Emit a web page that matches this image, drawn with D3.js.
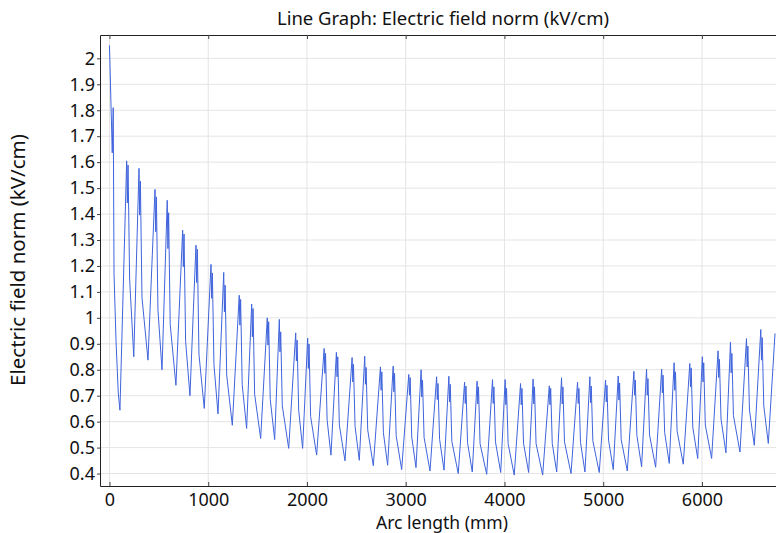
<!DOCTYPE html>
<html lang="en">
<head>
<meta charset="utf-8">
<title>Line Graph: Electric field norm</title>
<script src="https://cdn.jsdelivr.net/npm/d3@7"></script>
<style>
  body { margin: 0; background: #fff; }
  svg { display: block; font-family: "Noto Sans", sans-serif; }
</style>
</head>
<body>
<svg width="776" height="533"></svg>
<script>
// start of the trace (first electrode), [arc length mm, kV/cm]
var startPoints = [[0, 2.05], [28, 1.636], [38, 1.81], [46, 1.17], [66, 0.914], [89, 0.71], [106, 0.644]];

// one entry per spike
var peakX  = [174, 299, 461, 585, 741, 876, 1028, 1157, 1314, 1440, 1598, 1720, 1886, 2007, 2174, 2298, 2457, 2585, 2744, 2873, 3031, 3156, 3313, 3437, 3596, 3723, 3879, 4007, 4163, 4290, 4454, 4578, 4740, 4865, 5024, 5152, 5311, 5439, 5592, 5718, 5877, 6004, 6163, 6289, 6451, 6596];
var peakV  = [1.605, 1.576, 1.495, 1.453, 1.338, 1.28, 1.206, 1.175, 1.087, 1.053, 1.0, 0.994, 0.942, 0.922, 0.882, 0.867, 0.847, 0.852, 0.811, 0.814, 0.782, 0.80, 0.773, 0.775, 0.752, 0.756, 0.762, 0.762, 0.747, 0.764, 0.738, 0.769, 0.752, 0.773, 0.76, 0.776, 0.794, 0.802, 0.802, 0.827, 0.824, 0.85, 0.873, 0.907, 0.92, 0.955];
var dipV   = [1.443, 1.396, 1.332, 1.267, 1.197, 1.136, 1.075, 1.023, 0.972, 0.927, 0.895, 0.869, 0.834, 0.805, 0.786, 0.773, 0.753, 0.744, 0.721, 0.715, 0.702, 0.695, 0.685, 0.676, 0.67, 0.668, 0.67, 0.665, 0.665, 0.668, 0.665, 0.668, 0.67, 0.673, 0.676, 0.683, 0.702, 0.702, 0.711, 0.721, 0.734, 0.753, 0.77, 0.788, 0.811, 0.837];
var peak2V = [1.589, 1.527, 1.466, 1.405, 1.323, 1.264, 1.173, 1.126, 1.071, 1.036, 0.985, 0.946, 0.914, 0.899, 0.863, 0.85, 0.821, 0.809, 0.792, 0.786, 0.77, 0.76, 0.747, 0.744, 0.737, 0.734, 0.734, 0.728, 0.728, 0.734, 0.728, 0.734, 0.728, 0.737, 0.74, 0.749, 0.76, 0.766, 0.779, 0.792, 0.807, 0.827, 0.84, 0.863, 0.891, 0.924];
var kneeV  = [1.15, 1.08, 1.03, 0.975, 0.91, 0.86, 0.82, 0.78, 0.743, 0.706, 0.686, 0.661, 0.644, 0.62, 0.607, 0.587, 0.582, 0.569, 0.557, 0.547, 0.541, 0.539, 0.532, 0.524, 0.52, 0.515, 0.522, 0.515, 0.517, 0.516, 0.516, 0.522, 0.52, 0.526, 0.529, 0.531, 0.547, 0.549, 0.559, 0.565, 0.579, 0.587, 0.61, 0.623, 0.645, 0.661];
var troughX = [246, 390, 532, 673, 815, 960, 1099, 1244, 1389, 1531, 1673, 1815, 1956, 2098, 2243, 2385, 2530, 2672, 2817, 2959, 3104, 3246, 3388, 3532, 3674, 3820, 3962, 4099, 4245, 4387, 4529, 4674, 4815, 4960, 5102, 5244, 5389, 5531, 5669, 5811, 5957, 6098, 6243, 6385, 6530, 6672];
var troughV = [0.85, 0.837, 0.80, 0.74, 0.70, 0.651, 0.63, 0.586, 0.574, 0.535, 0.531, 0.497, 0.497, 0.471, 0.471, 0.449, 0.451, 0.43, 0.432, 0.415, 0.423, 0.41, 0.413, 0.40, 0.406, 0.397, 0.404, 0.394, 0.404, 0.394, 0.406, 0.40, 0.406, 0.404, 0.415, 0.41, 0.426, 0.424, 0.439, 0.436, 0.458, 0.458, 0.48, 0.483, 0.509, 0.516];
// arc length after the peak of the dip, second peak and knee (mm)
var spikeOffsets = [7, 14, 30];
var endPoint = [6740, 0.94];

var xTicks = [0, 1000, 2000, 3000, 4000, 5000, 6000];
var yTicks = [0.4, 0.5, 0.6, 0.7, 0.8, 0.9, 1.0, 1.1, 1.2, 1.3, 1.4, 1.5, 1.6, 1.7, 1.8, 1.9, 2.0];

// build the trace
var trace = startPoints.slice();
peakX.forEach(function (px, i) {
  trace.push([px, peakV[i]]);
  trace.push([px + spikeOffsets[0], dipV[i]]);
  trace.push([px + spikeOffsets[1], peak2V[i]]);
  trace.push([px + spikeOffsets[2], kneeV[i]]);
  trace.push([troughX[i], troughV[i]]);
});
trace.push(endPoint);

var svg = d3.select("svg");
var plotLeft = 100, plotRight = 777, plotTop = 35, plotBottom = 486;

var x = d3.scaleLinear().domain([-96, 6760]).range([plotLeft, plotRight]);
var y = d3.scaleLinear().domain([0.352, 2.09]).range([plotBottom, plotTop]);

// grid
svg.append("g")
  .selectAll("line")
  .data(xTicks)
  .enter().append("line")
    .attr("x1", function (d) { return x(d); })
    .attr("x2", function (d) { return x(d); })
    .attr("y1", plotTop).attr("y2", plotBottom)
    .attr("stroke", "#e4e4e4");
svg.append("g")
  .selectAll("line")
  .data(yTicks)
  .enter().append("line")
    .attr("x1", plotLeft).attr("x2", plotRight)
    .attr("y1", function (d) { return y(d); })
    .attr("y2", function (d) { return y(d); })
    .attr("stroke", "#e4e4e4");

// axes
var axisB = d3.axisBottom(x).tickValues(xTicks).tickSizeInner(-4).tickSizeOuter(0).tickPadding(7)
  .tickFormat(d3.format("d"));
var axisL = d3.axisLeft(y).tickValues(yTicks).tickSizeInner(3).tickSizeOuter(0).tickPadding(2)
  .tickFormat(function (d) { return String(+d.toFixed(1)); });
var axisT = d3.axisTop(x).tickValues(xTicks).tickSizeInner(-4).tickSizeOuter(0).tickFormat("");

var gB = svg.append("g").attr("transform", "translate(0," + plotBottom + ")").call(axisB);
var gL = svg.append("g").attr("transform", "translate(" + plotLeft + ",0)").call(axisL);
var gT = svg.append("g").attr("transform", "translate(0," + plotTop + ")").call(axisT);

[gB, gL, gT].forEach(function (g) {
  g.select(".domain").attr("stroke", "#222");
  g.selectAll(".tick line").attr("stroke", "#444");
  g.selectAll(".tick text").attr("fill", "#111")
    .style("font-family", "'Noto Sans', sans-serif").style("font-size", "18px");
});

// the curve
svg.append("path")
  .datum(trace)
  .attr("fill", "none")
  .attr("stroke", "#3f64dc")
  .attr("stroke-width", 1)
  .attr("stroke-linejoin", "round")
  .attr("d", d3.line()
    .x(function (d) { return x(d[0]); })
    .y(function (d) { return y(d[1]); }));

// texts
svg.append("text")
  .attr("x", 443).attr("y", 25)
  .attr("text-anchor", "middle")
  .style("font-size", "18.5px").attr("fill", "#111")
  .text("Line Graph: Electric field norm (kV/cm)");

svg.append("text")
  .attr("x", 442).attr("y", 529)
  .attr("text-anchor", "middle")
  .style("font-size", "17.5px").attr("fill", "#111")
  .text("Arc length (mm)");

svg.append("text")
  .attr("transform", "translate(25,260) rotate(-90)")
  .attr("text-anchor", "middle")
  .style("font-size", "20.5px").attr("fill", "#111")
  .text("Electric field norm (kV/cm)");
</script>
</body>
</html>
